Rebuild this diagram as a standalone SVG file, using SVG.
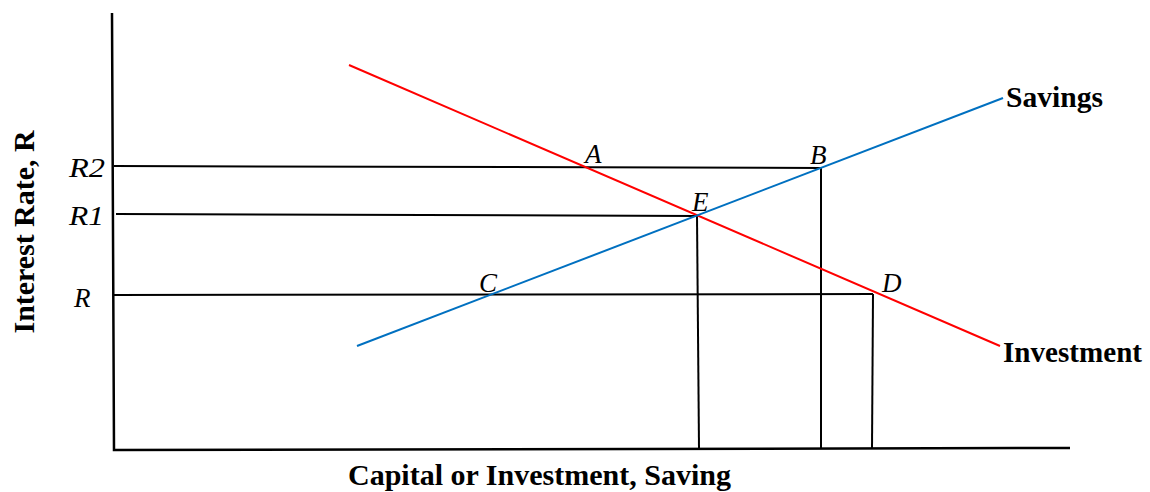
<svg xmlns="http://www.w3.org/2000/svg" width="1150" height="492" viewBox="0 0 1150 492">
<style>
.ax{stroke:#000;stroke-width:2.5;fill:none}
.ln{stroke:#000;stroke-width:2;fill:none}
.inv{stroke:#ff0000;stroke-width:2;fill:none}
.sav{stroke:#0070c0;stroke-width:2;fill:none}
.pt{font-family:"Liberation Serif",serif;font-style:italic;font-size:27px;fill:#000}
.lb{font-family:"Liberation Serif",serif;font-weight:bold;font-size:29px;fill:#000}
</style>
<rect width="1150" height="492" fill="#fff"/>
<g id="axes">
<path class="ax" d="M112 13 L114 450 L1070 448"/>
</g>
<g id="connectors">
<line class="ln" x1="114" y1="166" x2="822" y2="168"/>
<line class="ln" x1="116" y1="214" x2="697" y2="216"/>
<line class="ln" x1="114" y1="295" x2="873" y2="294"/>
<line class="ln" x1="697" y1="216" x2="699" y2="448"/>
<line class="ln" x1="821" y1="168" x2="821" y2="448"/>
<line class="ln" x1="873" y1="294" x2="872" y2="448"/>
<line class="inv" x1="349" y1="65" x2="1000" y2="346"/>
<line class="sav" x1="357" y1="346" x2="1003" y2="98"/>
</g>
<g id="labels">
<text class="pt" x="69" y="177" textLength="36" lengthAdjust="spacingAndGlyphs">R2</text>
<text class="pt" x="69" y="225" textLength="35" lengthAdjust="spacingAndGlyphs">R1</text>
<text class="pt" x="74" y="307">R</text>
<text class="pt" x="585" y="163">A</text>
<text class="pt" x="810" y="164">B</text>
<text class="pt" x="692" y="211">E</text>
<text class="pt" x="479" y="292">C</text>
<text class="pt" x="882" y="292">D</text>
</g>
<g id="savings"><text class="lb" x="1006" y="107" textLength="97" lengthAdjust="spacingAndGlyphs">Savings</text></g>
<g id="investment"><text class="lb" x="1003" y="362" textLength="139" lengthAdjust="spacingAndGlyphs">Investment</text></g>
<g id="xlabel"><text class="lb" x="348" y="485" textLength="383" lengthAdjust="spacingAndGlyphs">Capital or Investment, Saving</text></g>
<g id="ylabel"><text class="lb" transform="translate(34,232) rotate(-90)" text-anchor="middle" textLength="203" lengthAdjust="spacingAndGlyphs">Interest Rate, R</text></g>
</svg>
